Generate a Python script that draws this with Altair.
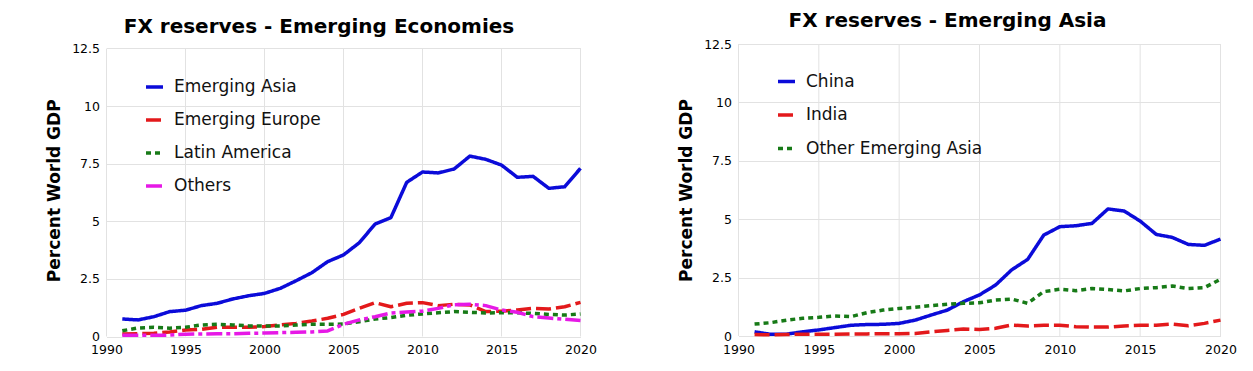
import altair as alt
import pandas as pd

years = list(range(1991, 2021))

# Left chart: FX reserves - Emerging Economies (percent of world GDP)
emerging_asia = [0.76, 0.72, 0.86, 1.08, 1.14, 1.34, 1.44, 1.63, 1.77, 1.87,
                 2.09, 2.42, 2.77, 3.25, 3.54, 4.07, 4.88, 5.16, 6.69, 7.14,
                 7.10, 7.27, 7.83, 7.69, 7.44, 6.91, 6.95, 6.43, 6.50, 7.30]
emerging_europe = [0.11, 0.12, 0.14, 0.20, 0.28, 0.31, 0.40, 0.40, 0.40, 0.43,
                   0.50, 0.57, 0.67, 0.79, 0.96, 1.22, 1.47, 1.29, 1.44, 1.47,
                   1.34, 1.40, 1.37, 1.08, 1.10, 1.15, 1.22, 1.19, 1.29, 1.48]
latin_america = [0.25, 0.37, 0.40, 0.36, 0.40, 0.50, 0.53, 0.50, 0.46, 0.46,
                 0.46, 0.50, 0.53, 0.53, 0.54, 0.64, 0.76, 0.82, 0.92, 0.98,
                 1.03, 1.08, 1.05, 1.02, 1.03, 1.03, 1.00, 0.96, 0.93, 0.98]
others = [0.05, 0.05, 0.05, 0.06, 0.10, 0.11, 0.12, 0.12, 0.14, 0.15,
          0.17, 0.18, 0.20, 0.24, 0.53, 0.72, 0.86, 1.02, 1.06, 1.10,
          1.22, 1.38, 1.40, 1.34, 1.15, 1.05, 0.86, 0.80, 0.75, 0.69]

# Right chart: FX reserves - Emerging Asia
china = [0.18, 0.07, 0.08, 0.18, 0.26, 0.36, 0.46, 0.49, 0.50, 0.54,
         0.68, 0.90, 1.11, 1.47, 1.76, 2.18, 2.83, 3.28, 4.32, 4.68,
         4.72, 4.82, 5.44, 5.35, 4.92, 4.35, 4.22, 3.92, 3.88, 4.15]
india = [0.06, 0.05, 0.06, 0.08, 0.08, 0.08, 0.09, 0.09, 0.10, 0.10,
         0.11, 0.18, 0.24, 0.30, 0.28, 0.33, 0.47, 0.43, 0.46, 0.46,
         0.40, 0.38, 0.38, 0.43, 0.46, 0.46, 0.51, 0.44, 0.54, 0.68]
other_emerging_asia = [0.51, 0.57, 0.68, 0.76, 0.80, 0.86, 0.83, 1.00, 1.11, 1.18,
                       1.23, 1.30, 1.36, 1.40, 1.42, 1.54, 1.58, 1.40, 1.90, 2.00,
                       1.94, 2.03, 1.99, 1.93, 2.03, 2.07, 2.14, 2.03, 2.07, 2.43]

left_names = ["Emerging Asia", "Emerging Europe", "Latin America", "Others"]
left_colors = ["#0b0bd9", "#e3191b", "#177a17", "#e619e6"]
left_dashes = [[1, 0], [15, 5], [5, 4], [16, 4, 4, 4]]

right_names = ["China", "India", "Other Emerging Asia"]
right_colors = ["#0b0bd9", "#e3191b", "#177a17"]
right_dashes = [[1, 0], [15, 5], [5, 4]]

y_ticks = [0, 2.5, 5, 7.5, 10, 12.5]
x_ticks = [1990, 1995, 2000, 2005, 2010, 2015, 2020]
y_top = 12.5


def long_df(names, series, field):
    rows = []
    for name, vals in zip(names, series):
        for yr, v in zip(years, vals):
            rows.append({"Year": yr, "Value": v, field: name})
    return pd.DataFrame(rows)


left_df = long_df(left_names, [emerging_asia, emerging_europe, latin_america, others], "Region")
right_df = long_df(right_names, [china, india, other_emerging_asia], "Country")
grid_df = pd.DataFrame({"Year": x_ticks, "lo": [0] * len(x_ticks), "hi": [y_top] * len(x_ticks)})

FONT = "DejaVu Sans"
GRID = "#e2e2e2"


def panel(df, field, names, colors, dashes, title, w, h, ymax, toff, tdx, rowpad, legy):
    xs = alt.Scale(domain=[1990, 2020], nice=False)
    ys = alt.Scale(domain=[0, ymax], nice=False)
    leg = alt.Legend(title=None, orient="none", legendX=37.5, legendY=legy,
                     symbolType="stroke", symbolSize=289, symbolStrokeWidth=3.5,
                     labelFontSize=17, labelFont=FONT, labelOffset=9, labelLimit=400,
                     rowPadding=rowpad, padding=0, labelColor="#111")
    grid = alt.Chart(grid_df).mark_rule(color=GRID, strokeWidth=1).encode(
        x=alt.X("Year:Q", scale=xs,
                axis=alt.Axis(values=x_ticks, format="d", title=None, labelFontSize=12.5,
                              labelFont=FONT, labelColor="#000", labelPadding=7, ticks=False,
                              domain=False, grid=False, labelFlush=False)),
        y=alt.Y("lo:Q", scale=ys,
                axis=alt.Axis(values=y_ticks, labelExpr="datum.value + ''", title="Percent World GDP",
                              titleFontSize=17, titleFont=FONT, titleFontWeight="bold",
                              titleColor="#000", titlePadding=8, labelFontSize=12.5,
                              labelFont=FONT, labelColor="#000", labelPadding=7, ticks=False,
                              domain=False, grid=True, gridColor=GRID)),
        y2="hi:Q",
    )
    lines = alt.Chart(df).mark_line(strokeWidth=3.5, strokeJoin="round").encode(
        x=alt.X("Year:Q", scale=xs),
        y=alt.Y("Value:Q", scale=ys),
        color=alt.Color(f"{field}:N", scale=alt.Scale(domain=names, range=colors), legend=leg),
        strokeDash=alt.StrokeDash(f"{field}:N", scale=alt.Scale(domain=names, range=dashes), legend=leg),
    )
    return alt.layer(grid, lines, title=alt.Title(title, fontSize=20, font=FONT, fontWeight="bold",
                                                  anchor="middle", offset=toff, dx=tdx,
                                                  color="#000")).properties(width=w, height=h)


# left panel: plot area sits 4.5px lower than the right one in the reference
left_ymax = 12.5 + 4.5 * 12.5 / 288
left = panel(left_df, "Region", left_names, left_colors, left_dashes,
             "FX reserves - Emerging Economies", 474, 292.5, left_ymax, 5.5, -24.5, 14, 32.5)
right = panel(right_df, "Country", right_names, right_colors, right_dashes,
              "FX reserves - Emerging Asia", 482, 292, 12.5, 7.5, -32, 14.5, 27)

chart = alt.hconcat(left, right, spacing=81).resolve_scale(
    color="independent", strokeDash="independent"
).configure_view(stroke=None).properties(
    padding={"left": 37.5, "top": 2, "right": 0, "bottom": 0},
    background="white",
)

chart.save("out.html", embed_options={"renderer": "svg", "actions": False})
